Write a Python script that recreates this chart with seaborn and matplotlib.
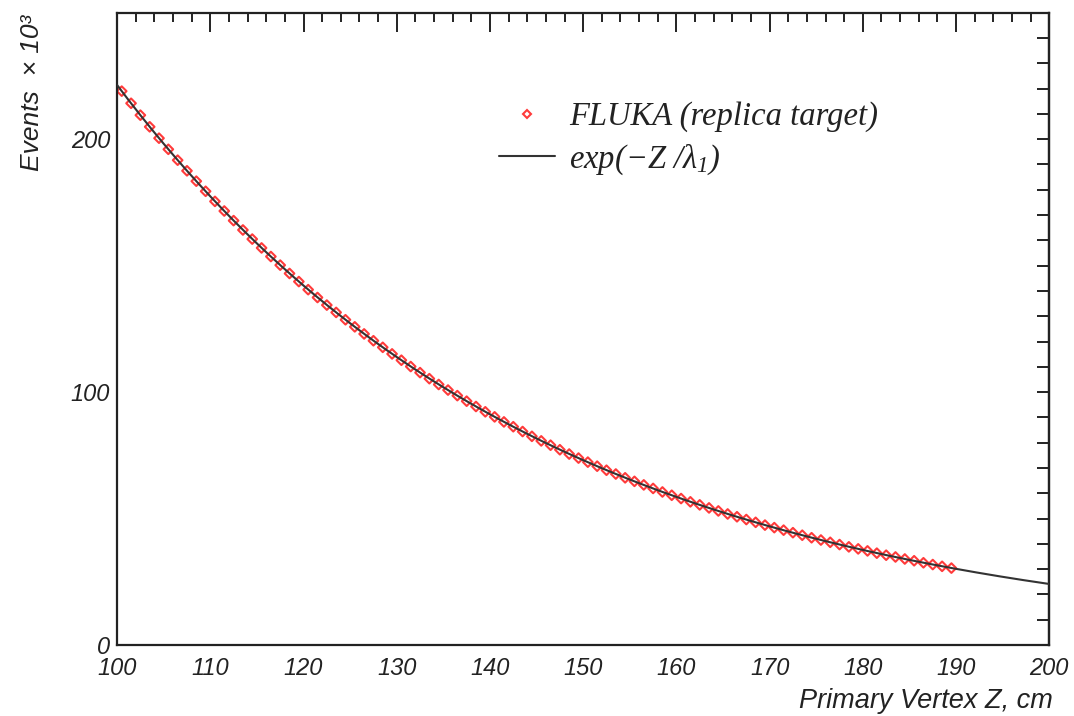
import numpy as np
import pandas as pd
import matplotlib
matplotlib.use("Agg")
import matplotlib.pyplot as plt
from matplotlib.ticker import MultipleLocator, NullFormatter
from matplotlib.lines import Line2D
import seaborn as sns

# ---- data ----
z_bins = [100.5 + i for i in range(90)]
events_k = [219.0, 214.2, 209.5, 204.9, 200.4, 196.0, 191.7, 187.5, 183.4, 179.4,
            175.4, 171.6, 167.8, 164.1, 160.5, 157.0, 153.6, 150.2, 146.9, 143.7,
            140.5, 137.4, 134.4, 131.5, 128.6, 125.8, 123.0, 120.3, 117.7, 115.1,
            112.6, 110.1, 107.7, 105.3, 103.0, 100.8, 98.6, 96.4, 94.3, 92.2,
            90.2, 88.2, 86.3, 84.4, 82.5, 80.7, 79.0, 77.2, 75.5, 73.9,
            72.3, 70.7, 69.1, 67.6, 66.1, 64.7, 63.3, 61.9, 60.5, 59.2,
            57.9, 56.6, 55.4, 54.2, 53.0, 51.8, 50.7, 49.6, 48.5, 47.4,
            46.4, 45.4, 44.4, 43.4, 42.4, 41.5, 40.6, 39.7, 38.8, 38.0,
            37.2, 36.3, 35.5, 34.8, 34.0, 33.3, 32.5, 31.8, 31.1, 30.4]
fit_amp = 219.0      # value at z = 100.5
fit_lambda = 45.1    # cm
fit_range = [100.0, 200.0]

x_label = "Primary Vertex Z, cm"
y_label = "Events  \u00d7 10\u00b3"
legend_points = "FLUKA (replica target)"
legend_line = r"$exp(-Z\ /\lambda_{\mathit{1}})$"

# ---- build frames ----
df_pts = pd.DataFrame({"z": z_bins, "events": events_k})
z_fit = np.linspace(fit_range[0], fit_range[1], 400)
df_fit = pd.DataFrame({"z": z_fit,
                       "events": fit_amp * np.exp(-(z_fit - 100.5) / fit_lambda)})

sns.set_theme(style="white")
plt.rcParams["font.family"] = ["Liberation Sans", "DejaVu Sans"]
plt.rcParams["mathtext.fontset"] = "custom"
plt.rcParams["mathtext.rm"] = "Liberation Serif:italic"
plt.rcParams["mathtext.it"] = "Liberation Serif:italic"
plt.rcParams["mathtext.sf"] = "Liberation Serif:italic"

fig = plt.figure(figsize=(10.74, 7.16), dpi=100)
ax = fig.add_axes([0.109, 0.0992, 0.868, 0.883])

red = "#ff3b3b"
ink = "#222222"
sns.scatterplot(data=df_pts, x="z", y="events", ax=ax, marker="D", s=24,
                facecolors="none", edgecolor=red, linewidth=1.5, zorder=2,
                legend=False)
sns.lineplot(data=df_fit, x="z", y="events", ax=ax, color="#333333",
             linewidth=1.5, zorder=3, legend=False)

ax.set_xlim(100, 200)
ax.set_ylim(0, 250)

ax.xaxis.set_major_locator(MultipleLocator(10))
ax.xaxis.set_minor_locator(MultipleLocator(2))
ax.yaxis.set_major_locator(MultipleLocator(100))
ax.yaxis.set_minor_locator(MultipleLocator(10))

ax.tick_params(axis="both", which="both", direction="in", top=True, right=False,
               colors=ink, width=1.4)
ax.tick_params(axis="x", which="major", length=13.5, labelsize=17, pad=9)
ax.tick_params(axis="x", which="minor", length=6.5)
ax.tick_params(axis="y", which="major", length=20, labelsize=17, pad=5)
ax.tick_params(axis="y", which="minor", length=11)
for lab in ax.get_xticklabels() + ax.get_yticklabels():
    lab.set_fontstyle("italic")
    lab.set_color(ink)

# right-hand axis: only short ticks, no labels (ROOT style)
sec = ax.secondary_yaxis("right")
sec.yaxis.set_major_locator(MultipleLocator(10))
sec.yaxis.set_major_formatter(NullFormatter())
sec.tick_params(axis="y", which="major", direction="in", length=9, width=1.4,
                colors=ink)
sec.spines["right"].set_linewidth(1.6)
sec.spines["right"].set_color(ink)

for sp in ax.spines.values():
    sp.set_linewidth(1.6)
    sp.set_color(ink)
    sp.set_visible(True)

ax.set_xlabel(x_label, fontsize=19.5, fontstyle="italic", color=ink)
ax.xaxis.set_label_coords(1.004, -0.068)
ax.xaxis.label.set_horizontalalignment("right")
ax.xaxis.label.set_verticalalignment("top")
ax.set_ylabel(y_label, fontsize=19, fontstyle="italic", color=ink)
ax.yaxis.set_label_coords(-0.078, 0.997)
ax.yaxis.label.set_horizontalalignment("right")

handles = [Line2D([], [], marker="D", linestyle="none", markerfacecolor="none",
                  markeredgecolor=red, markersize=4.5, markeredgewidth=1.5),
           Line2D([], [], color="#333333", linewidth=1.5)]
leg = ax.legend(handles, [legend_points, legend_line], loc="upper left",
                bbox_to_anchor=(0.396, 0.88), frameon=False, handlelength=1.7,
                handletextpad=0.45, labelspacing=0.3, borderaxespad=0.0,
                prop={"family": "Liberation Serif", "style": "italic", "size": 23.5})
for t in leg.get_texts():
    t.set_color(ink)

fig.savefig("out.png", dpi=100)
